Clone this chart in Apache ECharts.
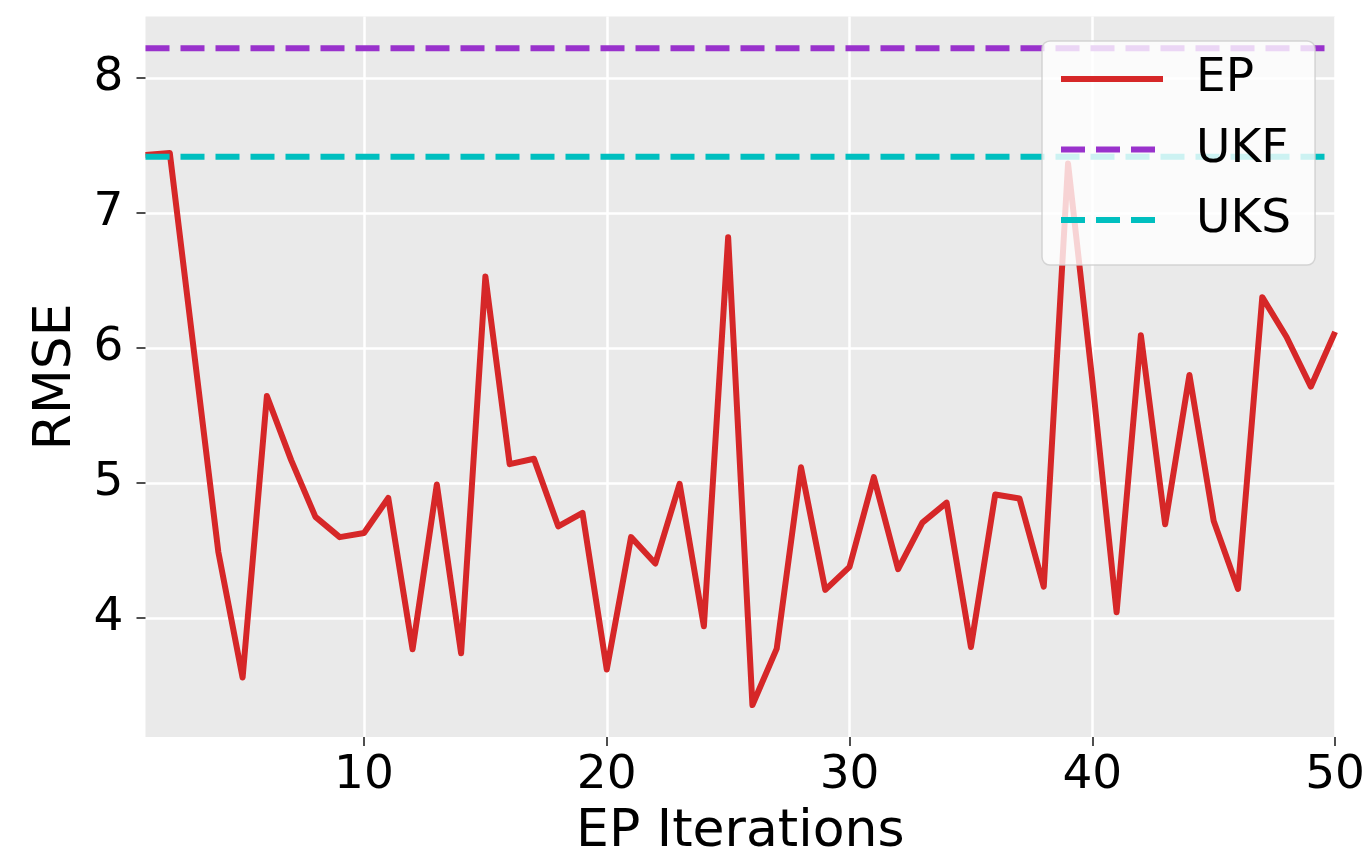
<!DOCTYPE html>
<html>
<head>
<meta charset="utf-8">
<script src="https://cdn.jsdelivr.net/npm/echarts@6/dist/echarts.min.js"></script>
<style>
  html, body { margin: 0; padding: 0; background: #ffffff; }
  #chart { width: 1368px; height: 863px; }
</style>
</head>
<body>
<div id="chart"></div>
<script>
// EP iteration index
const iterations = [
  1, 2, 3, 4, 5, 6, 7, 8, 9, 10,
  11, 12, 13, 14, 15, 16, 17, 18, 19, 20,
  21, 22, 23, 24, 25, 26, 27, 28, 29, 30,
  31, 32, 33, 34, 35, 36, 37, 38, 39, 40,
  41, 42, 43, 44, 45, 46, 47, 48, 49, 50
];

// RMSE of the EP smoother after each iteration
const epRmse = [
  7.43, 7.445, 5.97, 4.49, 3.56, 5.645, 5.17, 4.75, 4.60, 4.63,
  4.89, 3.77, 4.99, 3.74, 6.53, 5.14, 5.18, 4.68, 4.78, 3.62,
  4.60, 4.405, 4.995, 3.94, 6.82, 3.357, 3.774, 5.117, 4.209, 4.38,
  5.044, 4.363, 4.707, 4.855, 3.786, 4.916, 4.886, 4.233, 7.366, 5.76,
  4.044, 6.094, 4.695, 5.80, 4.72, 4.216, 6.377, 6.082, 5.714, 6.12
];

// Baselines: unscented Kalman filter and smoother
const ukfRmse = 8.22;
const uksRmse = 7.417;

// Axis ticks
const xTicks = [10, 20, 30, 40, 50];
const yTicks = [4, 5, 6, 7, 8];
const xRange = [1, 50];
const yRange = [3.12, 8.455];

const FONT = 'DejaVu Sans';
const TEXT = '#000000';

const epData = iterations.map((it, i) => [it, epRmse[i]]);
const ukfData = [[xRange[0], ukfRmse], [xRange[1], ukfRmse]];
const uksData = [[xRange[0], uksRmse], [xRange[1], uksRmse]];

const chart = echarts.init(document.getElementById('chart'), null, { renderer: 'canvas' });

chart.setOption({
  animation: false,
  backgroundColor: '#ffffff',
  textStyle: { fontFamily: FONT },
  grid: {
    show: true,
    left: 145.5,
    right: 32.5,
    top: 16.5,
    bottom: 123,
    backgroundColor: '#eaeaea',
    borderWidth: 0,
    containLabel: false
  },
  xAxis: {
    type: 'value',
    min: xRange[0],
    max: xRange[1],
    name: 'EP Iterations',
    nameLocation: 'middle',
    nameGap: 69,
    nameTextStyle: { fontFamily: FONT, fontSize: 52, color: TEXT },
    axisLine: { show: false },
    axisTick: {
      show: true,
      length: 9,
      customValues: xTicks,
      lineStyle: { color: '#222222', width: 1.6 }
    },
    axisLabel: {
      show: true,
      customValues: xTicks,
      margin: 15,
      fontFamily: FONT,
      fontSize: 47,
      color: TEXT
    },
    splitLine: {
      show: true,
      lineStyle: { color: '#ffffff', width: 2.5 }
    }
  },
  yAxis: {
    type: 'value',
    min: yRange[0],
    max: yRange[1],
    name: 'RMSE',
    nameLocation: 'middle',
    nameGap: 59,
    nameTextStyle: { fontFamily: FONT, fontSize: 52, color: TEXT },
    axisLine: { show: false },
    axisTick: {
      show: true,
      length: 9,
      customValues: yTicks,
      lineStyle: { color: '#222222', width: 1.6 }
    },
    axisLabel: {
      show: true,
      customValues: yTicks,
      margin: 22,
      fontFamily: FONT,
      fontSize: 47,
      color: TEXT
    },
    splitLine: {
      show: true,
      lineStyle: { color: '#ffffff', width: 2.5 }
    }
  },
  legend: {
    show: true,
    orient: 'vertical',
    left: 1042,
    top: 41,
    padding: [14, 24, 21, 16],
    itemGap: 22.5,
    itemWidth: 102,
    itemHeight: 20,
    backgroundColor: 'rgba(255,255,255,0.8)',
    borderColor: 'rgba(204,204,204,0.8)',
    borderWidth: 1.5,
    borderRadius: 8,
    // legend keys are plain strokes, no marker
    itemStyle: { color: 'transparent', borderWidth: 0, opacity: 0 },
    lineStyle: { width: 6, type: 'inherit', cap: 'butt' },
    textStyle: {
      fontFamily: FONT,
      fontSize: 47,
      lineHeight: 48,
      color: TEXT,
      padding: [0, 0, 0, 28]
    },
    data: ['EP', 'UKF', 'UKS']
  },
  series: [
    {
      name: 'EP',
      type: 'line',
      data: epData,
      symbol: 'none',
      showSymbol: false,
      clip: true,
      lineStyle: { color: '#d62728', width: 6, join: 'round', cap: 'butt' },
      itemStyle: { color: '#d62728' }
    },
    {
      name: 'UKF',
      type: 'line',
      data: ukfData,
      symbol: 'none',
      showSymbol: false,
      lineStyle: { color: '#9932cc', width: 6, type: [24, 11], cap: 'butt' },
      itemStyle: { color: '#9932cc' }
    },
    {
      name: 'UKS',
      type: 'line',
      data: uksData,
      symbol: 'none',
      showSymbol: false,
      lineStyle: { color: '#00bfbf', width: 6, type: [24, 11], cap: 'butt' },
      itemStyle: { color: '#00bfbf' }
    }
  ]
});
</script>
</body>
</html>
